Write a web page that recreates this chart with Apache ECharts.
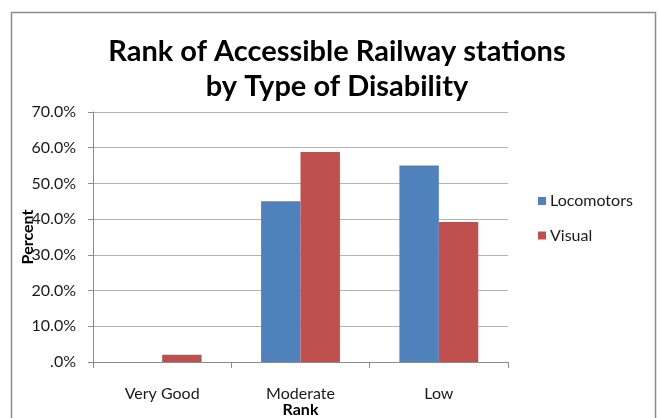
<!DOCTYPE html>
<html>
<head>
<meta charset="utf-8">
<script src="https://cdn.jsdelivr.net/npm/echarts@6/dist/echarts.min.js"></script>
<style>
  html, body { margin: 0; padding: 0; background: #fff; }
  #chart { width: 659px; height: 418px; }
</style>
</head>
<body>
<div id="chart"></div>
<script>
// Rank categories and share (%) of each disability type
const categories = ['Very Good', 'Moderate', 'Low'];
const locomotors = [0, 45.0, 55.0];
const visual = [2.0, 58.8, 39.2];
const yTicks = { min: 0, max: 70, step: 10 };

const FONT = 'Lato, "Open Sans", sans-serif';
const chart = echarts.init(document.getElementById('chart'));

chart.setOption({
  animation: false,
  backgroundColor: '#ffffff',
  title: {
    text: 'Rank of Accessible Railway stations\nby Type of Disability',
    left: 332,
    textAlign: 'center',
    top: 29,
    textStyle: {
      fontFamily: FONT,
      fontWeight: 'bold',
      fontSize: 29,
      lineHeight: 35,
      color: '#000000'
    }
  },
  graphic: [{
    type: 'rect',
    shape: { x: 11.5, y: 12.5, width: 644, height: 420 },
    style: { fill: 'none', stroke: '#8c8c8c', lineWidth: 1.5 },
    silent: true
  }],
  legend: {
    orient: 'vertical',
    left: 533,
    top: 188,
    itemWidth: 8,
    itemHeight: 8,
    itemGap: 18.5,
    icon: 'rect',
    textStyle: { fontFamily: FONT, fontSize: 16, color: '#1a1a1a', padding: [0, 0, 0, -1] },
    data: ['Locomotors', 'Visual']
  },
  grid: { left: 93, right: 151, top: 112, bottom: 56, outerBoundsMode: 'none', containLabel: false },
  xAxis: {
    type: 'category',
    data: categories,
    name: 'Rank',
    nameLocation: 'middle',
    nameGap: 40,
    nameMoveOverlap: false,
    nameTextStyle: { fontFamily: FONT, fontWeight: 'bold', fontSize: 16, color: '#000' },
    axisLine: { lineStyle: { color: '#8c8c8c', width: 1 } },
    axisTick: { show: true, length: 6, lineStyle: { color: '#8c8c8c' } },
    axisLabel: { fontFamily: FONT, fontSize: 16, color: '#1a1a1a', margin: 24 }
  },
  yAxis: {
    type: 'value',
    min: yTicks.min,
    max: yTicks.max,
    interval: yTicks.step,
    name: 'Percent',
    nameLocation: 'middle',
    nameGap: 57,
    nameMoveOverlap: false,
    nameRotate: 90,
    nameTextStyle: { fontFamily: FONT, fontWeight: 'bold', fontSize: 16, color: '#000' },
    axisLine: { show: true, lineStyle: { color: '#8c8c8c', width: 1 } },
    axisTick: { show: true, length: 5, lineStyle: { color: '#8c8c8c' } },
    splitLine: { lineStyle: { color: '#b3b3b3', width: 1 } },
    axisLabel: {
      fontFamily: FONT,
      fontSize: 16,
      color: '#1a1a1a',
      margin: 17,
      formatter: v => (v === 0 ? '.0%' : v.toFixed(1) + '%')
    }
  },
  series: [
    {
      name: 'Locomotors',
      type: 'bar',
      data: locomotors,
      barGap: '0%',
      barCategoryGap: '43%',
      itemStyle: { color: '#4f81bd' }
    },
    {
      name: 'Visual',
      type: 'bar',
      data: visual,
      barGap: '0%',
      barCategoryGap: '43%',
      itemStyle: { color: '#c0504d' }
    }
  ]
});
</script>
</body>
</html>
